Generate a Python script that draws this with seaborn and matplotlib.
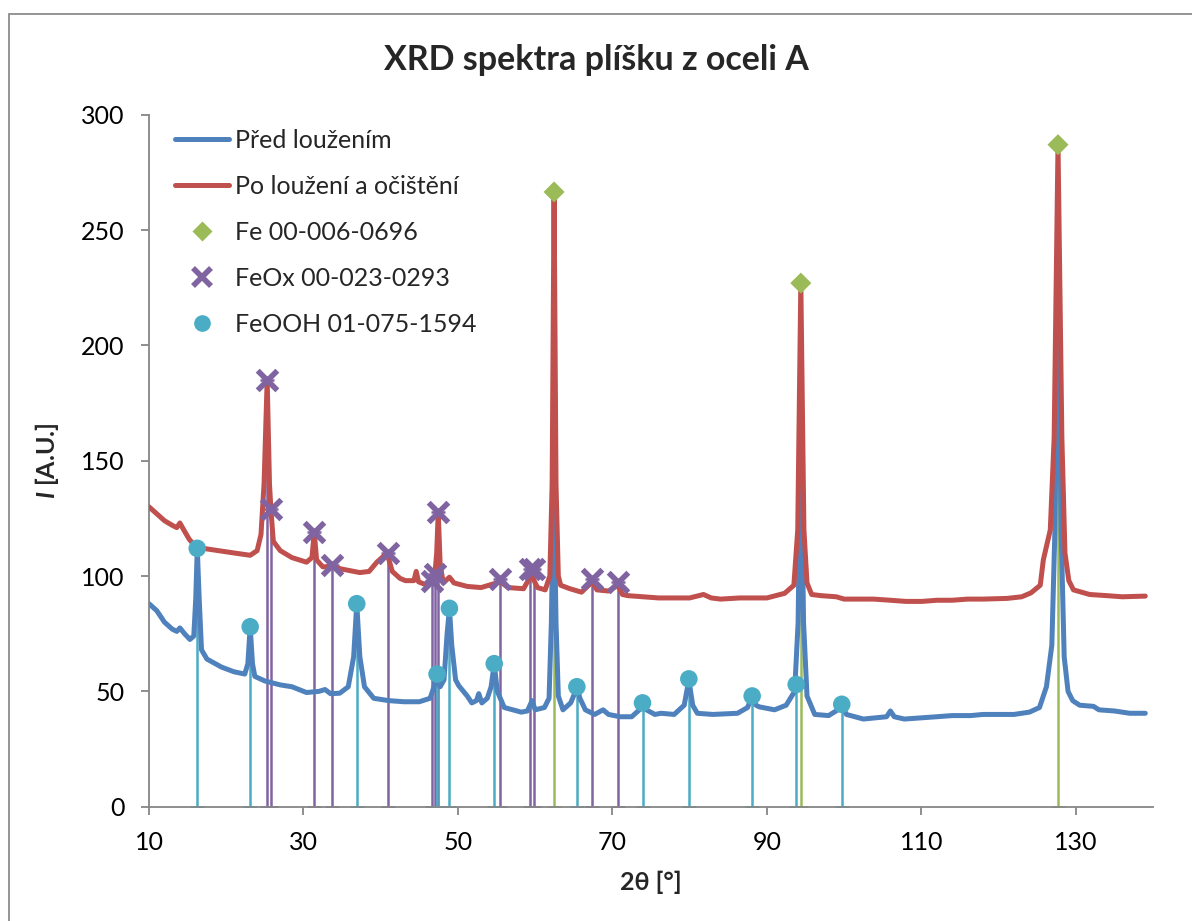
import numpy as np
import pandas as pd
import matplotlib
matplotlib.use("Agg")
import matplotlib.pyplot as plt
import seaborn as sns
from matplotlib.lines import Line2D
from matplotlib.patches import Rectangle

# ---------------- data ----------------
blue_x = [10, 11, 12, 13, 13.6, 14, 14.6, 15.3, 15.8, 16.05, 16.25, 16.5, 16.8, 17.5, 19.4, 21, 22.4, 22.8,
          23.1, 23.4, 23.7, 25, 27, 28.5, 30.4, 32, 32.8, 33.5, 34.7, 35.8, 36.5, 36.9, 37.3, 37.9, 39.1,
          41, 43, 45, 46.4, 46.9, 47.3, 47.7, 48.2, 48.6, 48.9, 49.2, 49.7, 50.1, 51.2, 51.8, 52.4, 52.7,
          53.1, 53.8, 54.3, 54.7, 55.1, 56, 58.2, 59, 59.6, 60, 61.2, 61.8, 62.1, 62.4, 62.7, 63, 63.6,
          64.6, 65.1, 65.4, 65.8, 66.5, 67.7, 68.8, 69.5, 71, 72.5, 73.5, 73.9, 74.4, 75.5, 76.3, 78,
          79.3, 79.9, 80.4, 81, 83, 86.2, 87.5, 88.1, 88.6, 89, 91, 92.5, 93.6, 94.05, 94.4, 94.75, 95.2,
          96.2, 98, 99.2, 99.7, 100.3, 102.5, 104, 105.5, 106, 106.5, 107.8, 110, 112, 114, 116.4, 118,
          120, 122, 124, 125.3, 126.2, 126.9, 127.3, 127.7, 128.1, 128.5, 129, 129.6, 130.5, 132.3, 133,
          135, 137, 139]
blue_y = [88, 85, 80, 77, 76, 77.5, 75, 72.5, 74, 90, 112, 90, 68, 64, 60.5, 58.5, 57.5, 62,
          78, 62, 56.5, 54.5, 52.8, 52, 49.5, 50, 50.8, 49, 49.2, 52, 65, 88, 65, 52, 47,
          46, 45.5, 45.5, 47, 52, 57, 52, 55, 75, 86, 70, 55, 52.5, 48, 45, 46, 49,
          45, 47, 52, 62, 50, 43, 41, 41.5, 46, 42, 43, 47, 80, 145, 80, 48, 42,
          45, 49, 52, 47, 42, 40, 42, 40, 39, 39, 42, 45, 42, 40, 40.5, 40,
          44, 55, 44, 40.5, 40, 40.5, 43, 48, 44, 43.3, 42, 44, 50, 80, 170, 80, 48,
          40, 39.5, 42, 44.5, 40, 38, 38.5, 39, 41.5, 39, 38, 38.5, 39, 39.5, 39.5, 40,
          40, 40, 41, 43, 52, 70, 120, 238, 120, 65, 50, 46, 44, 43.5, 42,
          41.5, 40.5, 40.5]

red_x = [10, 11, 12, 13, 13.6, 14, 14.5, 15.2, 15.7, 17, 19, 21, 23.1, 24, 24.5, 24.9, 25.3, 25.6, 25.8,
         26.1, 27, 28.5, 30.4, 31.1, 31.4, 31.7, 32.5, 33.7, 35, 37.3, 38.5, 39.5, 40.5, 40.9, 41.5,
         42.5, 43.2, 44.3, 44.6, 44.9, 46, 46.7, 47.0, 47.25, 47.45, 47.7, 48.1, 48.9, 49.5, 51.2, 53,
         55.5, 56.5, 58.5, 59.5, 60.3, 61.3, 61.9, 62.2, 62.45, 62.7, 63, 63.3, 64.5, 66, 67.4, 68,
         69.5, 70.7, 71.3, 72, 74, 76, 78, 80, 81.8, 82.8, 84, 86.5, 88.3, 90, 92.3, 93.5, 94, 94.4,
         94.8, 95.2, 95.8, 97, 99, 100, 102, 103.8, 106, 108, 110.1, 112, 114, 116, 118, 121.1, 123,
         124.2, 125.4, 125.8, 126.7, 127.2, 127.7, 128.2, 128.6, 129.1, 129.7, 131.8, 134, 136, 139]
red_y = [130, 127, 124, 122, 121, 123, 120, 116, 114, 112, 111, 110, 109, 111, 118, 140, 185, 140, 128,
         115, 111, 108, 106, 108, 119, 107, 104, 104, 103, 101.5, 102, 106, 109, 109, 102,
         99, 98, 98, 102, 97.5, 96, 98, 100, 110, 127.6, 105, 97, 99.5, 97, 95.5, 95,
         97.5, 95, 94.5, 100.5, 95, 94, 100, 140, 266, 140, 100, 96, 94.5, 93, 97.5, 94,
         93.5, 96, 92, 91.5, 91, 90.5, 90.5, 90.5, 92, 90.5, 90, 90.5, 90.5, 90.5, 92.5, 96, 120, 227,
         120, 97, 92, 91.5, 91, 90, 90, 90, 89.5, 89, 89, 89.5, 89.5, 90, 90, 90.3, 91,
         92.7, 96, 107, 120, 160, 287, 160, 110, 98, 94, 92, 91.5, 91, 91.3]

fe_x = [62.45, 94.4, 127.7]
fe_y = [266.5, 227, 287]

feox_x = [25.3, 25.8, 31.4, 33.7, 40.9, 46.7, 47.0, 47.45, 55.5, 59.35, 59.9, 67.4, 70.7]
feox_y = [185, 129, 119, 105, 110, 98, 101, 127.6, 98.7, 103, 103, 98.7, 97.5]

feooh_x = [16.25, 23.1, 36.9, 47.3, 48.9, 54.7, 65.4, 73.9, 79.9, 88.1, 93.8, 99.7]
feooh_y = [112, 78, 88, 57.5, 86, 62, 52, 45, 55.4, 48, 53, 44.4]

x_ticks = [10, 30, 50, 70, 90, 110, 130]
y_ticks = [0, 50, 100, 150, 200, 250, 300]

title = "XRD spektra plíšku z oceli A"
labels = ["Před loužením", "Po loužení a očištění", "Fe 00-006-0696", "FeOx 00-023-0293", "FeOOH 01-075-1594"]

# ---------------- style ----------------
sns.set_style("white")
plt.rcParams['font.family'] = ['Lato', 'DejaVu Sans']
plt.rcParams['mathtext.fontset'] = 'custom'
plt.rcParams['mathtext.it'] = 'Lato:italic:bold'
plt.rcParams['mathtext.rm'] = 'Lato:bold'
plt.rcParams['mathtext.bf'] = 'Lato:bold'

C_BLUE = "#4F81BD"
C_RED = "#C0504D"
C_GREEN = "#9BBB59"
C_PURPLE = "#8064A2"
C_CYAN = "#4BACC6"
C_AX = "#868686"

FS = 18

fig = plt.figure(figsize=(11.92, 9.21), dpi=100)
ax = fig.add_axes([149/1192, 1 - 806.7/921, (1153 - 149)/1192, (806.7 - 114.7)/921])

# outer chart border
fig.patches.append(Rectangle((9/1192, -0.05), 1.2, 1 - 14/921 + 0.05, transform=fig.transFigure,
                             fill=False, edgecolor="#8C8C8C", linewidth=1.3, zorder=0))

# stems (drop lines) like minus error bars with caps
def stems(xs, ys, color, z):
    ax.errorbar(xs, ys, yerr=[ys, [0]*len(ys)], fmt='none', ecolor=color, elinewidth=1.8,
                capsize=5, capthick=1.8, zorder=z)

stems(feooh_x, feooh_y, C_CYAN, 1.2)
stems(feox_x, feox_y, C_PURPLE, 1.1)
stems(fe_x, fe_y, C_GREEN, 1.3)

df_b = pd.DataFrame({"x": blue_x, "y": blue_y})
df_r = pd.DataFrame({"x": red_x, "y": red_y})
sns.lineplot(data=df_b, x="x", y="y", ax=ax, color=C_BLUE, linewidth=3.6, sort=False, zorder=2,
             solid_joinstyle='round')
sns.lineplot(data=df_r, x="x", y="y", ax=ax, color=C_RED, linewidth=3.6, sort=False, zorder=3,
             solid_joinstyle='round')

sns.scatterplot(x=fe_x, y=fe_y, ax=ax, marker='D', s=115, color=C_GREEN, edgecolor='none', zorder=5)
sns.scatterplot(x=feox_x, y=feox_y, ax=ax, marker='x', s=200, color=C_PURPLE, linewidth=4, zorder=5)
sns.scatterplot(x=feooh_x, y=feooh_y, ax=ax, marker='o', s=160, color=C_CYAN, edgecolor='none', zorder=5)

ax.set_xlim(10, 140)
ax.set_ylim(0, 300)
ax.set_xticks(x_ticks)
ax.set_yticks(y_ticks)
ax.tick_params(axis='both', labelsize=FS, direction='out', length=5.8, width=1.3, color=C_AX,
               labelcolor='black', bottom=True, left=True)
ax.tick_params(axis='x', pad=12)
ax.tick_params(axis='y', pad=12)
for s in ['top', 'right']:
    ax.spines[s].set_visible(False)
for s in ['left', 'bottom']:
    ax.spines[s].set_color(C_AX)
    ax.spines[s].set_linewidth(1.3)

ax.set_xlabel("2θ [°]", fontsize=FS, fontweight='bold', labelpad=12)
ax.set_ylabel(r"$\mathit{I}$ [A.U.]", fontsize=FS, fontweight='bold', labelpad=14)

fig.text(0.5, 1 - 60/921, title, ha='center', va='center', fontsize=24.5, fontweight='bold')

handles = [
    Line2D([], [], color=C_BLUE, lw=3.6),
    Line2D([], [], color=C_RED, lw=3.6),
    Line2D([], [], color=C_GREEN, marker='D', ms=10.5, lw=0, mec='none'),
    Line2D([], [], color=C_PURPLE, marker='x', ms=13, mew=4, lw=0),
    Line2D([], [], color=C_CYAN, marker='o', ms=12, lw=0, mec='none'),
]
fig.legend(handles, labels, loc='upper left', bbox_to_anchor=(175/1192, 1 - 129/921),
           bbox_transform=fig.transFigure, frameon=False, fontsize=FS, handlelength=2.15,
           handletextpad=0.25, labelspacing=0.92, borderpad=0, borderaxespad=0)

fig.savefig("out.png", dpi=100)
